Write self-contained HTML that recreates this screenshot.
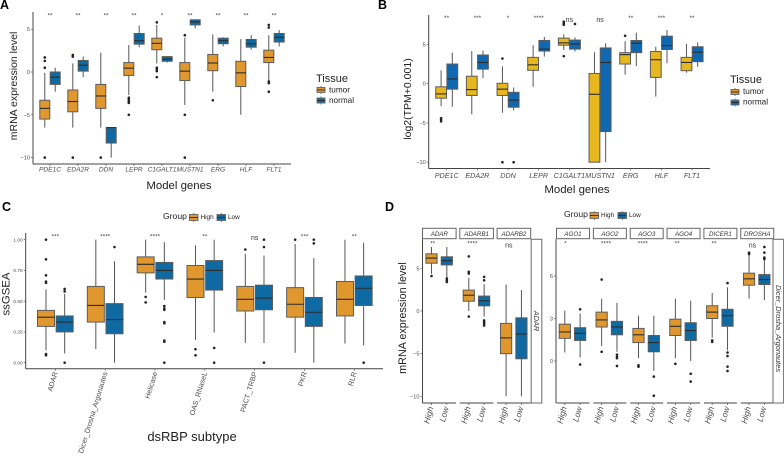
<!DOCTYPE html>
<html lang="en">
<head>
<meta charset="utf-8">
<title>Multi-panel boxplots</title>
<style>
html,body{margin:0;padding:0;background:#fff;}
#figure{display:block;width:784px;height:457px;filter:blur(0.35px);}
text{font-family:"Liberation Sans",sans-serif;}
</style>
</head>
<body>
<svg id="figure" xmlns="http://www.w3.org/2000/svg" width="784" height="457" viewBox="0 0 784 457"></svg>
<script>
/* Panel A data: [whisker low, Q1, median, Q3, whisker high] */
const aGenes = ['PDE1C','EDA2R','DDN','LEPR','C1GALT1','MUSTN1','ERG','HLF','FLT1'];
const aSig = ['**','**','**','**','*','**','**','**','**'];
const aYTicks = [5,0,-5,-10];
const aTumorStats = [[-6.5,-5.5,-4.25,-3.3,-0.1],[-6.5,-4.65,-3.45,-2.1,1],[-6.5,-4.25,-2.8,-1.45,2.25],[-2.7,-0.4,0.45,1.1,3.15],[1,2.6,3.35,3.95,5.5],[-3.85,-1,0.1,1.1,4],[-2.3,0.15,1.05,2.05,4.4],[-5,-1.7,-0.1,1.25,3.85],[-0.95,1.1,1.7,2.55,4.3]];
const aNormalStats = [[-2.3,-1.45,-0.6,0,0.5],[-0.6,0.1,0.8,1.35,1.8],[-10,-8.3,-6.5,-6.5,-6.5],[2.9,3.25,3.65,4.5,5.4],[1.1,1.25,1.5,1.8,1.85],[5.1,5.5,5.85,6.1,6.15],[3,3.3,3.65,3.95,4.05],[2.6,2.9,3.3,3.8,4.3],[3,3.5,4.05,4.5,4.9]];
const aTumorOutliers = [[1.7,1.3,0.5,-10],[2,1.8,-10],[-10],[-3,-3.2,-3.4,-3.6,-5],[5.8,0.5,0.3,0.1,-0.6],[4.3,-5,-10],[-3.3],[],[5.5,5.2,-1.1,-1.3,-2.3]];
const aNormalOutliers = [[],[],[],[],[],[],[],[],[]];

/* Panel B data */
const bGenes = ['PDE1C','EDA2R','DDN','LEPR','C1GALT1','MUSTN1','ERG','HLF','FLT1'];
const bSig = ['**','***','*','****','ns','ns','**','***','**'];
const bYTicks = [5,0,-5,-10];
const bTumorStats = [[-2.85,-1.85,-1.3,-0.4,1.7],[-3.9,-1.5,-0.75,0.95,4.15],[-3.7,-1.5,-0.7,0.05,2.2],[-0.4,1.7,2.4,3.35,4.9],[4.3,4.9,5.2,5.8,6.3],[-10,-10,-1.35,1.3,4],[1.15,2.5,3.7,3.95,5.4],[-1.65,0.8,3.05,4.1,4.7],[1.4,1.65,2.7,3.35,5.05]];
const bNormalStats = [[-2.95,-0.7,0.6,2.5,3.95],[0.7,1.85,2.7,3.65,4.2],[-3.4,-3,-2.1,-1.1,-0.5],[3.45,4.15,4.4,5.5,5.95],[4.1,4.4,5.05,5.55,5.9],[-10,-6.1,2.7,4.55,5.15],[2.25,3.95,5.15,5.5,6.5],[2.6,4.35,4.85,6.05,6.85],[2.15,2.8,4,4.7,5.25]];
const bTumorOutliers = [[-4.4,-4.6,-4.8],[],[3.2,-10],[],[7.5,7.7,7.9,3.5],[],[6.1],[],[]];
const bNormalOutliers = [[],[],[-10],[],[7.6],[],[],[],[]];

/* Panel C data */
const cSubtypes = ['ADAR','Dicer_Drosha_Argonautes','Helicase','OAS_RNaseL','PACT_TRBP','PKR','RLR'];
const cSig = ['***','****','****','**','ns','***','**'];
const cYTicks = [1,0.75,0.5,0.25,0];
const cHighStats = [[0.1,0.295,0.37,0.425,0.595],[0.11,0.33,0.465,0.62,1],[0.57,0.73,0.8,0.86,1],[0.185,0.53,0.68,0.79,0.955],[0.16,0.42,0.515,0.62,0.885],[0.08,0.37,0.475,0.61,0.965],[0.155,0.38,0.515,0.66,1]];
const cLowStats = [[0.075,0.25,0.33,0.38,0.56],[0,0.235,0.35,0.48,0.825],[0.51,0.68,0.75,0.815,0.98],[0.245,0.59,0.75,0.83,1],[0.16,0.43,0.525,0.63,0.87],[0,0.295,0.41,0.53,0.85],[0.14,0.465,0.605,0.705,0.975]];
const cHighOutliers = [[1,0.84,0.71,0.66,0.65,0.07,0.06],[],[0.535,0.49],[0.11,0.06],[0.92],[1],[]];
const cLowOutliers = [[0.6,0.58,0],[0.94],[0.46,0.44,0.43,0.33,0.32,0.18,0.17,0],[0.12,0],[1,0.94,0],[1,0.97],[0]];

/* Panel D data, ADAR family */
const dAdarGenes = ['ADAR','ADARB1','ADARB2'];
const dAdarSig = ['**','****','ns'];
const dAdarYTicks = [5,0,-5,-10];
const dAdarHighStats = [[4.35,5.6,6.2,6.7,7.5],[0,1.15,1.85,2.45,3.9],[-10,-5,-3.15,-1.45,3.1]];
const dAdarLowStats = [[3.9,5.4,5.9,6.35,7.5],[-0.65,0.6,1.2,1.75,3.15],[-10,-5.6,-2.7,-0.8,2.45]];
const dAdarHighOutliers = [[4.1],[6.4,4.6,4.4,-0.65],[]];
const dAdarLowOutliers = [[3.8,3.6,3.4],[4,3.6,-1.1,-1.3,-1.5,-1.7],[]];

/* Panel D data, Dicer/Drosha/Argonautes family */
const dAgoGenes = ['AGO1','AGO2','AGO3','AGO4','DICER1','DROSHA'];
const dAgoSig = ['*','****','****','**','**','ns'];
const dAgoYTicks = [6,3,0];
const dAgoHighStats = [[0.6,1.6,2.05,2.6,3.55],[1.05,2.4,2.9,3.45,4.4],[0.2,1.3,1.85,2.3,3.2],[0.2,1.8,2.45,2.95,4.4],[1.65,3,3.45,3.9,4.8],[4.4,5.35,5.8,6.2,7.5]];
const dAgoLowStats = [[0.25,1.45,1.95,2.35,3.35],[0.65,1.85,2.4,2.8,4.1],[-0.7,0.65,1.3,1.8,3.2],[0,1.45,2.15,2.7,4.25],[0.75,2.45,3.2,3.65,5.2],[4.3,5.4,5.75,6.1,7.2]];
const dAgoHighOutliers = [[],[5.75,0.65],[-0.3,-0.4],[-0.2],[1.45,1.35],[7.55,7.65]];
const dAgoLowOutliers = [[3.65,-0.25],[0.45,0.3,0.2,-0.35],[-1.1,-2.45],[-0.9,-1.45],[5.5,0.6,0.35,-0.4,-0.7],[8.05,7.65,7.3,7.2]];

const ORANGE = '#E0982E';
const BLUE = '#0F6AA3';
const YELLOW = '#E6B71E';
const BRIGHT_BLUE = '#1068B0';
const GREY_TEXT = '#4d4d4d';
const svg = document.getElementById('figure');
const NS = 'http://www.w3.org/2000/svg';

function el(tag, attrs, parent, txt) {
  const n = document.createElementNS(NS, tag);
  for (const k in attrs) n.setAttribute(k, attrs[k]);
  if (txt !== undefined) n.textContent = txt;
  parent.appendChild(n);
  return n;
}
function scale(d0, r0, d1, r1) {
  return function (v) { return r0 + (v - d0) * (r1 - r0) / (d1 - d0); };
}
function slug(s) { return String(s).toLowerCase().replace(/[^a-z0-9]+/g, '-'); }
function fmtMinus(v, digits) {
  const s = digits ? Math.abs(v).toFixed(digits) : String(Math.abs(v));
  return (v < 0 ? '\u2212' : '') + s;
}

function drawBox(parent, cx, w, stat, outs, color, y, name) {
  const g = el('g', {}, parent);
  
  
  const whisker = el('line', {x1: cx, x2: cx, y1: y(stat[0]), y2: y(stat[4]), stroke: '#555', 'stroke-width': 1}, g);
  
  
  const top = y(stat[3]);
  const box = el('rect', {x: cx - w / 2, y: top, width: w, height: Math.max(0.5, y(stat[1]) - top), fill: color, stroke: '#5c5c5c', 'stroke-width': 1}, g);
  
  
  const med = el('line', {x1: cx - w / 2, x2: cx + w / 2, y1: y(stat[2]), y2: y(stat[2]), stroke: '#2b2b2b', 'stroke-width': 1.1}, g);
  
  
  outs.forEach(function (v) {
    const p = el('circle', {cx: cx, cy: y(v), r: 1.3, fill: '#222'}, g);
    
    
  });
}

function drawKey(parent, x, yTop, w, h, color, name) {
  const cx = x + w / 2;
  const wh = el('line', {x1: cx, x2: cx, y1: yTop - 1.5, y2: yTop + h + 1.5, stroke: '#555', 'stroke-width': 0.8}, parent);
  
  
  const r = el('rect', {x: x, y: yTop, width: w, height: h, fill: color, stroke: '#666', 'stroke-width': 0.9}, parent);
  
  
  const m = el('line', {x1: x, x2: x + w, y1: yTop + h / 2, y2: yTop + h / 2, stroke: '#2b2b2b', 'stroke-width': 0.9}, parent);
  
  
}

function label(parent, x, y, str, size, name, opts) {
  const o = opts || {};
  const attrs = {x: x, y: y, 'font-size': size, fill: o.fill || '#222', 'text-anchor': o.anchor || 'start'};
  if (o.italic) attrs['font-style'] = 'italic';
  if (o.bold) attrs['font-weight'] = 'bold';
  if (o.rotate !== undefined) attrs.transform = 'rotate(' + o.rotate + ' ' + x + ' ' + y + ')';
  const t = el('text', attrs, parent, str);
  
  
  return t;
}

function hLine(parent, x1, x2, y, name, stroke, width) {
  const l = el('line', {x1: x1, x2: x2, y1: y, y2: y, stroke: stroke || '#444', 'stroke-width': width || 1}, parent);
  
  
}
function vLine(parent, x, y1, y2, name, stroke, width) {
  const l = el('line', {x1: x, x2: x, y1: y1, y2: y2, stroke: stroke || '#444', 'stroke-width': width || 1}, parent);
  
  
}

function yAxis(parent, ticks, y, x, top, bottom, size, digits, prefix) {
  vLine(parent, x, top, bottom, prefix + '-y-axis-line');
  ticks.forEach(function (v) {
    hLine(parent, x - 2, x, y(v), prefix + '-y-tick', '#555', 0.7);
    label(parent, x - 3, y(v) + size * 0.36, fmtMinus(v, digits), size, prefix + '-y-tick-label', {anchor: 'end', fill: GREY_TEXT});
  });
}

function categoricalPanel(c) {
  const g = el('g', {}, svg);
  
  
  yAxis(g, c.yTicks, c.y, c.axisX, c.axisTop, c.axisBottom, c.yTickSize, c.digits, c.id);
  hLine(g, c.axisX, c.axisEnd, c.axisBottom, c.id + '-x-axis-line');
  c.categories.forEach(function (name, i) {
    const cx = c.x(i);
    vLine(g, cx, c.axisBottom, c.axisBottom + 2, c.id + '-x-tick', '#555', 0.7);
    const s = slug(name);
    drawBox(g, cx - c.dodge / 2, c.boxW, c.stats1[i], c.out1[i], c.color1, c.y, c.id + '-' + s + '-' + c.name1);
    drawBox(g, cx + c.dodge / 2, c.boxW, c.stats2[i], c.out2[i], c.color2, c.y, c.id + '-' + s + '-' + c.name2);
    if (c.rotateLabels) {
      label(g, cx + 2.5, c.axisBottom + 4, name, c.xTickSize, c.id + '-x-label-' + s, {anchor: 'end', rotate: -73, fill: GREY_TEXT});
    } else {
      label(g, cx, c.xLabelY, name, c.xTickSize, c.id + '-x-label-' + s, {anchor: 'middle', italic: true, fill: GREY_TEXT});
    }
    const sig = c.sig[i];
    if (sig === 'ns') {
      label(g, cx, c.nsY, sig, 7, c.id + '-significance-' + s, {anchor: 'middle', fill: '#333'});
    } else {
      label(g, cx, c.starY, sig, 6.5, c.id + '-significance-' + s, {anchor: 'middle', fill: '#444'});
    }
  });
}

function tissueLegend(id, titleX, titleY, keyX, key1Y, key2Y, textX, text1Y, text2Y, color1, color2) {
  const g = el('g', {}, svg);
  
  
  label(g, titleX, titleY, 'Tissue', 11, id + '-legend-title');
  drawKey(g, keyX, key1Y, 8, 5, color1, id + '-tumor');
  drawKey(g, keyX, key2Y, 8, 5, color2, id + '-normal');
  label(g, textX, text1Y, 'tumor', 8.2, id + '-legend-tumor-label');
  label(g, textX, text2Y, 'normal', 8.2, id + '-legend-normal-label');
}

function groupLegend(id, titleX, baseY, key1X, key2X, keyY) {
  const g = el('g', {}, svg);
  
  
  label(g, titleX, baseY, 'Group', 8.6, id + '-legend-title');
  drawKey(g, key1X, keyY, 8.5, 6, ORANGE, id + '-high');
  label(g, key1X + 11, baseY, 'High', 6.4, id + '-legend-high-label');
  drawKey(g, key2X, keyY, 8.5, 6, BLUE, id + '-low');
  label(g, key2X + 11, baseY, 'Low', 6.4, id + '-legend-low-label');
}

/* Panel letters */
label(svg, 0, 9, 'A', 12.5, 'panel-letter-a', {bold: true, fill: '#000'});
label(svg, 378, 9, 'B', 12.5, 'panel-letter-b', {bold: true, fill: '#000'});
label(svg, 2, 211, 'C', 12.5, 'panel-letter-c', {bold: true, fill: '#000'});
label(svg, 385, 211, 'D', 12.5, 'panel-letter-d', {bold: true, fill: '#000'});

/* Panel A */
categoricalPanel({
  id: 'a', categories: aGenes, sig: aSig, yTicks: aYTicks,
  stats1: aTumorStats, stats2: aNormalStats, out1: aTumorOutliers, out2: aNormalOutliers,
  name1: 'tumor', name2: 'normal', color1: ORANGE, color2: BLUE,
  x: scale(0, 50, 1, 78), y: scale(0, 72, 5, 29.2),
  dodge: 10.4, boxW: 10, axisX: 33, axisEnd: 291, axisTop: 12, axisBottom: 164,
  yTickSize: 5.6, xTickSize: 6.6, xLabelY: 171.5, starY: 17.5, nsY: 18, digits: 0
});
label(svg, 17, 86, 'mRNA expression level', 10.5, 'a-y-axis-title', {anchor: 'middle', rotate: -90});
label(svg, 179, 189, 'Model genes', 11.4, 'a-x-axis-title', {anchor: 'middle'});
tissueLegend('a', 316, 82, 317, 87.5, 98, 329, 92.5, 102.8, ORANGE, BLUE);

/* Panel B */
categoricalPanel({
  id: 'b', categories: bGenes, sig: bSig, yTicks: bYTicks,
  stats1: bTumorStats, stats2: bNormalStats, out1: bTumorOutliers, out2: bNormalOutliers,
  name1: 'tumor', name2: 'normal', color1: YELLOW, color2: BRIGHT_BLUE,
  x: scale(0, 446.7, 1, 477.37), y: scale(0, 83.67, 5, 44.4),
  dodge: 11.2, boxW: 10.8, axisX: 428.7, axisEnd: 710, axisTop: 15, axisBottom: 168.5,
  yTickSize: 5.6, xTickSize: 7.2, xLabelY: 178, starY: 20, nsY: 22, digits: 0
});
label(svg, 411, 99, 'log2(TPM+0.001)', 10.5, 'b-y-axis-title', {anchor: 'middle', rotate: -90});
label(svg, 577, 193, 'Model genes', 11.4, 'b-x-axis-title', {anchor: 'middle'});
tissueLegend('b', 730, 83, 731, 89.5, 100, 743, 94.2, 104.5, ORANGE, BRIGHT_BLUE);

/* Panel C */
categoricalPanel({
  id: 'c', categories: cSubtypes, sig: cSig, yTicks: cYTicks,
  stats1: cHighStats, stats2: cLowStats, out1: cHighOutliers, out2: cLowOutliers,
  name1: 'high', name2: 'low', color1: ORANGE, color2: BLUE,
  x: scale(0, 55.33, 1, 105.16), y: scale(0, 362.67, 1, 239.67),
  dodge: 18.67, boxW: 17, axisX: 25.7, axisEnd: 383, axisTop: 233, axisBottom: 368.7,
  yTickSize: 4.8, xTickSize: 7.2, rotateLabels: true, starY: 238.5, nsY: 240, digits: 2
});
label(svg, 9.5, 294, 'ssGSEA', 11.4, 'c-y-axis-title', {anchor: 'middle', rotate: -90});
label(svg, 192, 441, 'dsRBP subtype', 13, 'c-x-axis-title', {anchor: 'middle'});
groupLegend('c', 163, 219, 189.5, 217, 214.5);

/* Panel D */
function facetGroup(id, genes, sig, yTicks, highStats, lowStats, highOut, lowOut, facetX, panelW, step, y, axisX, stripText, stripX, strip2W, strip2Text) {
  const g = el('g', {}, svg);
  
  
  const top = 239.3, bottom = 403;
  yAxis(g, yTicks, y, axisX, top, bottom, 5.6, 0, id);
  genes.forEach(function (name, i) {
    const left = facetX(i);
    const s = slug(name);
    hLine(g, left, left + panelW, bottom, id + '-facet-axis-' + s);
    const strip = el('rect', {x: left, y: 228.3, width: panelW, height: 10.4, fill: '#fff', stroke: '#666', 'stroke-width': 1}, g);
    
    
    label(g, left + panelW / 2, 236, name, 6.2, 'facet-strip-label-' + s, {anchor: 'middle', italic: true, fill: '#333'});
    const cHigh = left + step, cLow = left + step + 15.33;
    drawBox(g, cHigh, 11.2, highStats[i], highOut[i], ORANGE, y, 'd-' + s + '-high');
    drawBox(g, cLow, 11.2, lowStats[i], lowOut[i], BLUE, y, 'd-' + s + '-low');
    vLine(g, cHigh, bottom, bottom + 2, id + '-x-tick', '#555', 0.7);
    vLine(g, cLow, bottom, bottom + 2, id + '-x-tick', '#555', 0.7);
    label(g, cHigh + 2, bottom + 4.5, 'High', 8.4, id + '-x-label-high', {anchor: 'end', italic: true, rotate: -75, fill: GREY_TEXT});
    label(g, cLow + 2, bottom + 4.5, 'Low', 8.4, id + '-x-label-low', {anchor: 'end', italic: true, rotate: -75, fill: GREY_TEXT});
    if (sig[i] === 'ns') {
      label(g, left + 8, 247.5, sig[i], 7, 'd-significance-' + s, {fill: '#333'});
    } else {
      label(g, left + 7.6, 245.5, sig[i], 6.5, 'd-significance-' + s, {fill: '#444'});
    }
  });
  const side = el('rect', {x: stripX, y: top, width: strip2W, height: bottom - top, fill: '#fff', stroke: '#777', 'stroke-width': 1.1}, g);
  
  
  const tx = stripX + strip2W / 2 - 2.5;
  label(g, tx, stripText, strip2Text, 7.4, id + '-side-strip-label', {anchor: 'middle', italic: true, rotate: 90, fill: '#333'});
}

facetGroup('d-adar', dAdarGenes, dAdarSig, dAdarYTicks, dAdarHighStats, dAdarLowStats, dAdarHighOutliers, dAdarLowOutliers,
  scale(0, 422.5, 1, 459.8), 33.6, 9, scale(0, 311, 5, 268.33), 422.5, 321, 531.2, 10.6, 'ADAR');
facetGroup('d-ago', dAgoGenes, dAgoSig, dAgoYTicks, dAgoHighStats, dAgoLowStats, dAgoHighOutliers, dAgoLowOutliers,
  scale(0, 556.5, 1, 593.35), 33, 8.3, scale(0, 361, 3, 318.5), 556, 328.5, 773, 10.6, 'Dicer_Drosha_Argonautes');
label(svg, 406, 318, 'mRNA expression level', 10.8, 'd-y-axis-title', {anchor: 'middle', rotate: -90});
groupLegend('d', 564, 217, 590, 618, 212.5);
</script>
</body>
</html>
